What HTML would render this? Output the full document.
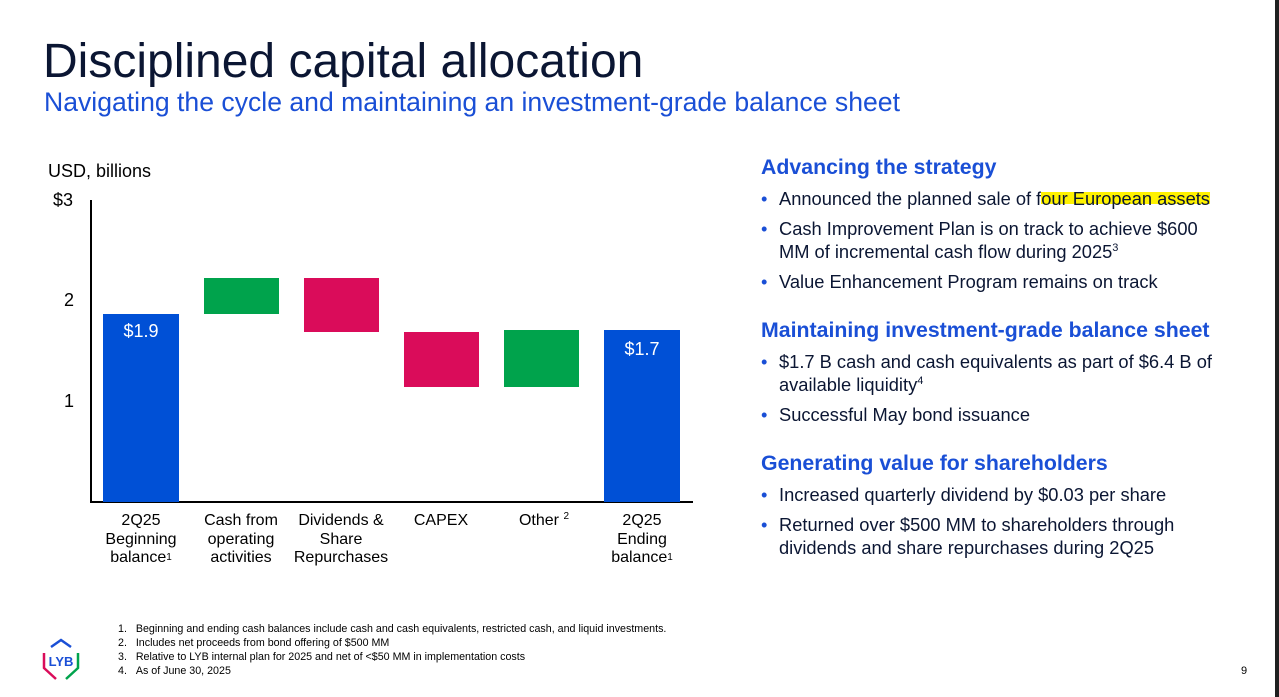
<!DOCTYPE html>
<html><head><meta charset="utf-8"><style>
body{margin:0;width:1279px;height:697px;background:#fff;position:relative;overflow:hidden;font-family:"Liberation Sans",sans-serif;color:#0b1633}
.a{position:absolute;white-space:nowrap}
.bar{position:absolute}
.xl{position:absolute;text-align:center;font-size:16px;line-height:18.5px;width:110px;color:#000}
.h{position:absolute;left:761px;font-size:21.3px;font-weight:bold;color:#1a4fd6}
.b{position:absolute;left:761px;font-size:18.3px;line-height:23px;color:#0b1633;white-space:nowrap}
.b span.d{color:#1a4fd6;display:inline-block;width:18px}
sup{font-size:11px;line-height:0;vertical-align:baseline;position:relative;top:-7px}
.ft{position:absolute;left:118px;font-size:10.7px;color:#000;white-space:nowrap}
</style></head><body>
<div style="position:absolute;left:1275px;top:0;width:4px;height:697px;background:#202020"></div>
<div class="a" style="left:43px;top:34px;font-size:48px;color:#0b1633">Disciplined capital allocation</div>
<div class="a" style="left:44px;top:87px;font-size:26.6px;color:#1a4fd6">Navigating the cycle and maintaining an investment-grade balance sheet</div>
<div class="a" style="left:48px;top:161px;font-size:18px;color:#000">USD, billions</div>
<div class="a" style="left:53px;top:190px;font-size:18px;color:#000">$3</div>
<div class="a" style="left:64px;top:290px;font-size:18px;color:#000">2</div>
<div class="a" style="left:64px;top:391px;font-size:18px;color:#000">1</div>
<div class="bar" style="left:90px;top:200px;width:2px;height:303px;background:#000"></div>
<div class="bar" style="left:90px;top:501px;width:603px;height:2px;background:#000"></div>
<div class="bar" style="left:103px;top:314px;width:76px;height:188px;background:#0050d6"></div>
<div class="a" style="left:103px;top:321px;width:76px;text-align:center;font-size:18px;color:#fff">$1.9</div>
<div class="bar" style="left:204px;top:278px;width:75px;height:36px;background:#00a34c"></div>
<div class="bar" style="left:304px;top:278px;width:75px;height:54px;background:#da0c5a"></div>
<div class="bar" style="left:404px;top:332px;width:75px;height:55px;background:#da0c5a"></div>
<div class="bar" style="left:504px;top:330px;width:75px;height:57px;background:#00a34c"></div>
<div class="bar" style="left:604px;top:330px;width:76px;height:172px;background:#0050d6"></div>
<div class="a" style="left:604px;top:339px;width:76px;text-align:center;font-size:18px;color:#fff">$1.7</div>
<div class="xl" style="left:86px;top:512px">2Q25<br>Beginning<br>balance<sup style="font-size:10px;top:-2px">1</sup></div>
<div class="xl" style="left:186px;top:512px">Cash from<br>operating<br>activities</div>
<div class="xl" style="left:286px;top:512px">Dividends &amp;<br>Share<br>Repurchases</div>
<div class="xl" style="left:386px;top:512px">CAPEX</div>
<div class="xl" style="left:489px;top:512px">Other <sup style="font-size:10px;top:-6px">2</sup></div>
<div class="xl" style="left:587px;top:512px">2Q25<br>Ending<br>balance<sup style="font-size:10px;top:-2px">1</sup></div>
<div class="h" style="top:155px">Advancing the strategy</div>
<div class="b" style="top:187px"><span class="d">•</span>Announced the planned sale of f<span style="background:linear-gradient(#fff 0,#fff 20%,#fff200 20%,#fff200 75%,#fff 75%)">our European assets</span></div>
<div class="b" style="top:217px"><span class="d">•</span>Cash Improvement Plan is on track to achieve $600<br><span class="d"></span>MM of incremental cash flow during 2025<sup>3</sup></div>
<div class="b" style="top:270px"><span class="d">•</span>Value Enhancement Program remains on track</div>
<div class="h" style="top:318px">Maintaining investment-grade balance sheet</div>
<div class="b" style="top:350px"><span class="d">•</span>$1.7 B cash and cash equivalents as part of $6.4 B of<br><span class="d"></span>available liquidity<sup>4</sup></div>
<div class="b" style="top:403px"><span class="d">•</span>Successful May bond issuance</div>
<div class="h" style="top:451px">Generating value for shareholders</div>
<div class="b" style="top:483px"><span class="d">•</span>Increased quarterly dividend by $0.03 per share</div>
<div class="b" style="top:513px"><span class="d">•</span>Returned over $500 MM to shareholders through<br><span class="d"></span>dividends and share repurchases during 2Q25</div>
<div class="ft" style="top:623px">1.&nbsp;&nbsp;&nbsp;Beginning and ending cash balances include cash and cash equivalents, restricted cash, and liquid investments.</div>
<div class="ft" style="top:637px">2.&nbsp;&nbsp;&nbsp;Includes net proceeds from bond offering of $500 MM</div>
<div class="ft" style="top:651px">3.&nbsp;&nbsp;&nbsp;Relative to LYB internal plan for 2025 and net of &lt;$50 MM in implementation costs</div>
<div class="ft" style="top:665px">4.&nbsp;&nbsp;&nbsp;As of June 30, 2025</div>
<svg style="position:absolute;left:36px;top:635px" width="50" height="50">
<polyline points="15,12 25,5 35,12" fill="none" stroke="#1a4fd6" stroke-width="2.5"/>
<polyline points="8,18 8,33 20,44" fill="none" stroke="#da0c5a" stroke-width="2.5"/>
<polyline points="42,18 42,33 30,44" fill="none" stroke="#00a34c" stroke-width="2.5"/>
<text x="25" y="31" text-anchor="middle" font-family="Liberation Sans" font-weight="bold" font-size="13" fill="#1a4fd6">LYB</text>
</svg>
<div class="a" style="left:1241px;top:665px;font-size:11px;color:#000">9</div>
</body></html>
